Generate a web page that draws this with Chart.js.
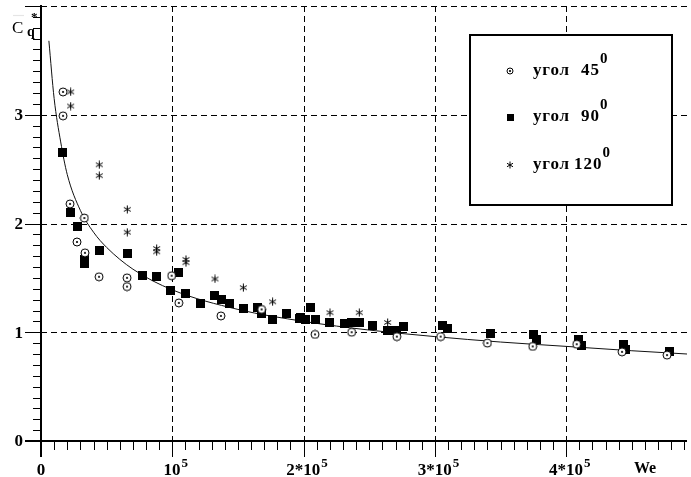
<!DOCTYPE html>
<html>
<head>
<meta charset="utf-8">
<script src="https://cdn.jsdelivr.net/npm/chart.js@4/dist/chart.umd.min.js"></script>
<style>
  html, body { margin: 0; padding: 0; background: #fff; }
  #wrap { width: 691px; height: 477px; }
</style>
</head>
<body>
<div id="wrap"><canvas id="grafico" width="691" height="477"></canvas></div>
<script>
// угол 45
const we45 = [16760, 16760, 22100, 33000, 27400, 33500, 44200, 65500, 65500, 99500, 105000, 137000, 168000, 208700, 236600, 271000, 304400, 340000, 374500, 408000, 442500, 476800];
const cq45 = [3.21, 2.99, 2.18, 2.05, 1.83, 1.73, 1.51, 1.50, 1.42, 1.52, 1.27, 1.15, 1.21, 0.98, 1.00, 0.96, 0.96, 0.90, 0.87, 0.89, 0.82, 0.79];
// угол 90
const we90 = [16500, 22600, 27700, 32800, 32800, 44400, 66000, 77500, 87600, 98800, 105100, 110400, 121100, 132500, 137600, 143200, 154100, 164700, 168000, 176200, 186600, 196500, 197300, 201800, 205600, 208700, 219600, 231000, 236600, 242400, 252600, 264000, 270900, 276000, 305700, 309400, 342000, 375000, 377500, 409200, 411800, 443500, 444800, 478500];
const cq90 = [2.65, 2.10, 1.97, 1.67, 1.63, 1.75, 1.72, 1.52, 1.51, 1.38, 1.55, 1.36, 1.26, 1.34, 1.30, 1.26, 1.22, 1.23, 1.17, 1.12, 1.17, 1.13, 1.14, 1.12, 1.23, 1.12, 1.09, 1.08, 1.09, 1.09, 1.06, 1.02, 1.02, 1.05, 1.06, 1.03, 0.99, 0.98, 0.93, 0.93, 0.88, 0.89, 0.84, 0.82];
// угол 120
const we120 = [22600, 22600, 44400, 44400, 65700, 65700, 88100, 88100, 110400, 110400, 132500, 154100, 176400, 220100, 242400, 264000];
const cq120 = [3.21, 3.08, 2.54, 2.44, 2.13, 1.92, 1.77, 1.74, 1.67, 1.64, 1.49, 1.41, 1.28, 1.18, 1.18, 1.09];
// кривая
const weFit = [6000, 10000, 15000, 20000, 30000, 40000, 50000, 70000, 100000, 150000, 200000, 250000, 300000, 350000, 400000, 450000, 492000];
const cqFit = [3.68, 3.15, 2.75, 2.45, 2.12, 1.92, 1.78, 1.58, 1.39, 1.21, 1.10, 1.02, 0.96, 0.91, 0.87, 0.83, 0.80];

const xTicks = [0, 100000, 200000, 300000, 400000];
const xTickText = [["0", ""], ["10", "5"], ["2*10", "5"], ["3*10", "5"], ["4*10", "5"]];
const yTicks = [0, 1, 2, 3, 4];
const yTickText = ["0", "1", "2", "3"];
const etiquetas = [["угол", "45", "0"], ["угол", "90", "0"], ["угол", "120", "0"]];

const toPts = (xs, ys) => xs.map((x, i) => ({ x: x, y: ys[i] }));

function marca(tipo, size) {
  const c = document.createElement("canvas");
  c.width = size; c.height = size;
  const g = c.getContext("2d");
  const m = size / 2;
  g.strokeStyle = "#000"; g.fillStyle = "#000"; g.lineWidth = 1;
  if (tipo === "circulo") {
    g.beginPath(); g.arc(m, m, m - 1, 0, Math.PI * 2);
    g.fillStyle = "#fff"; g.fill(); g.stroke();
    g.fillStyle = "#000";
    g.beginPath(); g.arc(m, m, 1.1, 0, Math.PI * 2); g.fill();
  } else if (tipo === "cuadrado") {
    g.fillRect(0, 0, size, size);
  } else {
    const r = m - 0.5;
    [90, 30, -30].forEach(a => {
      const t = a * Math.PI / 180;
      g.beginPath();
      g.moveTo(m - r * Math.cos(t), m - r * Math.sin(t));
      g.lineTo(m + r * Math.cos(t), m + r * Math.sin(t));
      g.stroke();
    });
  }
  return c;
}

const imgCirculo = marca("circulo", 10);
const imgCuadrado = marca("cuadrado", 9);
const imgEstrella = marca("estrella", 9);

function linea(ctx, x1, y1, x2, y2) {
  ctx.beginPath(); ctx.moveTo(x1, y1); ctx.lineTo(x2, y2); ctx.stroke();
}

const ejes = {
  id: "ejes",
  beforeDatasetsDraw(chart) {
    const { ctx, chartArea: a, scales: { x, y } } = chart;
    ctx.save();
    ctx.strokeStyle = "#000";
    ctx.lineWidth = 1;
    ctx.setLineDash([6, 4]);
    xTicks.forEach(v => {
      if (v === 0) return;
      const px = Math.round(x.getPixelForValue(v)) + 0.5;
      linea(ctx, px, a.top, px, a.bottom);
    });
    yTicks.forEach(v => {
      if (v === 0) return;
      const py = Math.round(y.getPixelForValue(v)) + 0.5;
      linea(ctx, a.left, py, chart.width, py);
    });
    ctx.setLineDash([]);
    // minor ticks
    for (let v = 0; v <= x.max + 1; v += 10000) {
      const px = Math.round(x.getPixelForValue(v)) + 0.5;
      const major = v % 100000 === 0;
      linea(ctx, px, a.bottom, px, a.bottom + (major ? 16 : 9));
    }
    for (let k = 0; k <= 40; k++) {
      const py = Math.round(y.getPixelForValue(k / 10)) + 0.5;
      const major = k % 10 === 0;
      linea(ctx, a.left - (major ? 16 : 8), py, a.left, py);
    }
    // axes
    ctx.lineWidth = 2;
    const y0 = Math.round(y.getPixelForValue(0));
    const x0 = Math.round(x.getPixelForValue(0));
    linea(ctx, a.left - 16, y0, a.right, y0);
    linea(ctx, x0, a.top - 1, x0, a.bottom + 16);
    ctx.restore();
  },
  afterDatasetsDraw(chart) {
    const { ctx, scales: { x, y } } = chart;
    ctx.save();
    ctx.fillStyle = "#000";
    // y labels
    ctx.font = "bold 17px 'Liberation Serif'";
    ctx.textAlign = "right";
    ctx.textBaseline = "middle";
    yTickText.forEach((t, i) => {
      ctx.fillText(t, 23, y.getPixelForValue(yTicks[i]) + 1);
    });
    // x labels
    ctx.textBaseline = "alphabetic";
    xTickText.forEach((t, i) => {
      const px = x.getPixelForValue(xTicks[i]);
      ctx.font = "bold 17px 'Liberation Serif'";
      const w1 = ctx.measureText(t[0]).width;
      ctx.font = "bold 13px 'Liberation Serif'";
      const w2 = ctx.measureText(t[1]).width;
      let sx = t[1] ? px - (w1 + w2) / 2 + 3 : px - w1 / 2;
      ctx.textAlign = "left";
      ctx.font = "bold 17px 'Liberation Serif'";
      ctx.fillText(t[0], sx, 475);
      ctx.font = "bold 13px 'Liberation Serif'";
      ctx.fillText(t[1], sx + w1 + 1, 467);
    });
    ctx.font = "bold 16px 'Liberation Serif'";
    ctx.fillText("We", 634, 473);

    // C_q* label
    ctx.font = "17px 'Liberation Serif'";
    ctx.fillText("C", 12, 33);
    ctx.lineWidth = 1.2;
    linea(ctx, 13, 15.5, 24, 15.5);
    ctx.font = "bold 14px 'Liberation Serif'";
    ctx.fillText("q", 27, 36);
    ctx.font = "bold 13px 'Liberation Serif'";
    ctx.fillText("*", 31, 21);

    // legend box
    const bx = 470, by = 35, bw = 202, bh = 170;
    ctx.fillStyle = "#fff";
    ctx.fillRect(bx, by, bw, bh);
    ctx.strokeStyle = "#000";
    ctx.lineWidth = 2;
    ctx.strokeRect(bx, by, bw, bh);
    const filas = [71, 117, 165];
    const imgs = [marca("circulo", 8), marca("cuadrado", 7), marca("estrella", 8)];
    ctx.fillStyle = "#000";
    ctx.textAlign = "left";
    etiquetas.forEach((e, i) => {
      const cy = filas[i];
      const im = imgs[i];
      ctx.drawImage(im, 510 - im.width / 2, cy - im.height / 2);
      ctx.font = "bold 17px 'Liberation Serif'";
      ctx.letterSpacing = "0.8px";
      ctx.fillText(e[0], 533, cy + 4);
      ctx.letterSpacing = "1px";
      const nx = e[1].length > 2 ? 574 : 581;
      ctx.fillText(e[1], nx, cy + 4);
      const w = ctx.measureText(e[1]).width;
      ctx.letterSpacing = "0px";
      ctx.font = "bold 15px 'Liberation Serif'";
      ctx.fillText(e[2], nx + w, cy - 8);
    });
    ctx.restore();
  }
};

new Chart(document.getElementById("grafico"), {
  type: "scatter",
  data: {
    datasets: [
      {
        label: "кривая",
        data: toPts(weFit, cqFit),
        showLine: true,
        borderColor: "#111",
        borderWidth: 1,
        pointRadius: 0,
        tension: 0.4,
        cubicInterpolationMode: "monotone",
        order: 4,
        clip: false
      },
      {
        label: "угол 90",
        data: toPts(we90, cq90),
        pointStyle: imgCuadrado,
        order: 3,
        clip: false
      },
      {
        label: "угол 45",
        data: toPts(we45, cq45),
        pointStyle: imgCirculo,
        order: 2,
        clip: false
      },
      {
        label: "угол 120",
        data: toPts(we120, cq120),
        pointStyle: imgEstrella,
        order: 1,
        clip: false
      }
    ]
  },
  options: {
    responsive: false,
    animation: false,
    devicePixelRatio: 1,
    layout: { padding: { left: 41, right: 4, top: 6, bottom: 36 }, autoPadding: false },
    plugins: { legend: { display: false }, tooltip: { enabled: false } },
    scales: {
      x: { type: "linear", min: 0, max: 492000, display: false },
      y: { type: "linear", min: 0, max: 4, display: false }
    }
  },
  plugins: [ejes]
});
</script>
</body>
</html>
